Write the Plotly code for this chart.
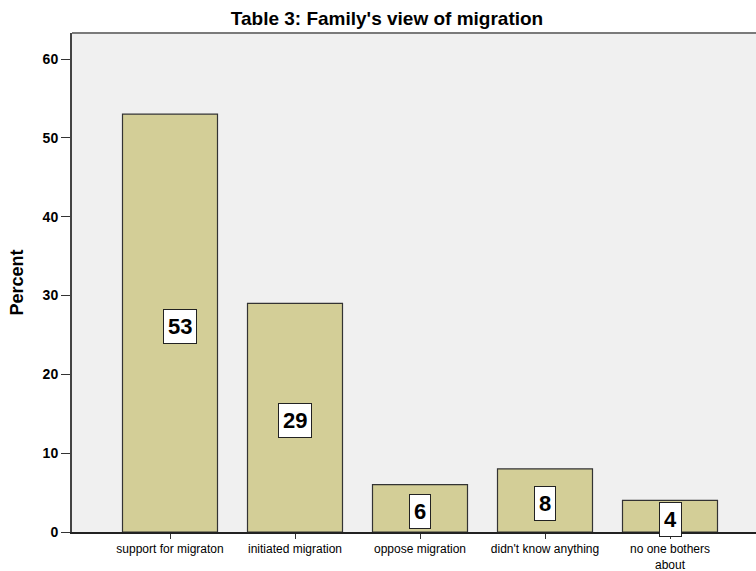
import plotly.graph_objects as go

categories = ["support for migraton", "initiated migration", "oppose migration",
              "didn't know anything", "no one bothers<br>about"]
percent = [53, 29, 6, 8, 4]
labels = ["53", "29", "6", "8", "4"]
label_xshift = [10, 0, 0, 0, 0]
y_ticks = [0, 10, 20, 30, 40, 50, 60]

fig = go.Figure()
fig.add_trace(go.Bar(
    x=list(range(len(categories))), y=percent,
    width=0.76,
    marker=dict(color="#D3CE97", line=dict(color="#333333", width=1.2)),
    hoverinfo="skip",
))

for i, (v, t, xs) in enumerate(zip(percent, labels, label_xshift)):
    fig.add_annotation(
        x=i, y=v / 2, text="<b>%s</b>" % t, showarrow=False,
        xshift=xs, yshift=-3,
        font=dict(family="Arial", size=22, color="black"),
        bgcolor="white", bordercolor="#222222", borderwidth=1, borderpad=4,
    )

# top frame line of the plot area
fig.add_shape(type="line", xref="paper", yref="paper", x0=0, x1=1, y0=1, y1=1,
              line=dict(color="#7a7a7a", width=2))

fig.update_layout(
    width=756, height=571,
    margin=dict(l=72, r=0, t=33, b=39),
    paper_bgcolor="white", plot_bgcolor="#F0F0F0",
    showlegend=False,
    title=dict(text="<b>Table 3: Family's view of migration</b>", x=387 / 756, xanchor="center",
               y=1 - 18 / 571, yanchor="middle", xref="container", yref="container",
               font=dict(family="Arial", size=19, color="black")),
    font=dict(family="Arial", color="black"),
)

fig.update_xaxes(
    range=[-0.784, -0.784 + 684 / 125],
    tickvals=list(range(len(categories))), ticktext=categories,
    ticks="outside", ticklen=5, tickcolor="#333333",
    showline=True, linecolor="#222222", linewidth=1.5,
    showgrid=False, zeroline=False, automargin=False,
    tickfont=dict(family="Arial", size=12, color="black"),
)
fig.update_yaxes(
    range=[0, 63.3],
    tickvals=y_ticks, ticktext=["<b>%d</b>" % t for t in y_ticks],
    ticks="outside", ticklen=9, tickcolor="#333333",
    showline=True, linecolor="#444444", linewidth=2,
    showgrid=False, zeroline=False, automargin=False,
    tickfont=dict(family="Arial", size=14, color="black"),
    title=dict(text="<b>Percent</b>", font=dict(family="Arial", size=18, color="black"), standoff=14),
)

fig.write_html("out.html", config={"displayModeBar": False})

# remove default page margins so the figure fills the window exactly
with open("out.html", "r", encoding="utf-8") as f:
    html = f.read()
html = html.replace("<head>", "<head><style>html,body{margin:0;padding:0;overflow:hidden;}</style>", 1)
with open("out.html", "w", encoding="utf-8") as f:
    f.write(html)
